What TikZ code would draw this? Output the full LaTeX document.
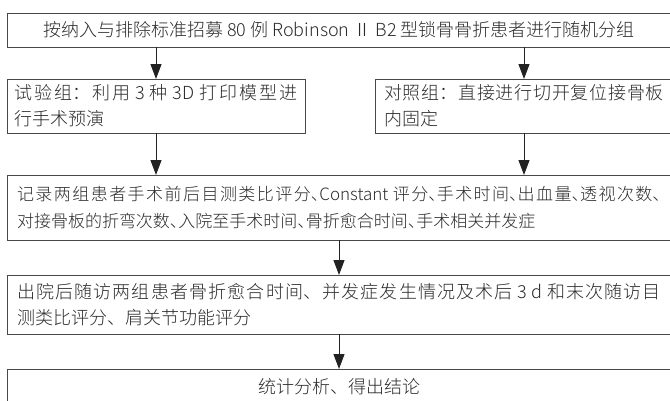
\documentclass[tikz,border=0pt]{standalone}
\usepackage{fontspec}
\newfontfamily\cjk{Noto Sans CJK SC Light}
\usetikzlibrary{arrows.meta}
\XeTeXlinebreaklocale "zh"
\XeTeXlinebreakskip=0pt plus 4pt
\tolerance=9999
\definecolor{boxc}{HTML}{484848}
\definecolor{txtc}{HTML}{2A2A2A}
\definecolor{arrc}{HTML}{222222}
\newcommand\hdun{\makebox[0.5em][l]{、}}
\begin{document}
\begin{tikzpicture}[x=1pt,y=-1pt,
  box/.style={draw=boxc, line width=1pt, inner ysep=0pt, outer sep=0pt, text=txtc, anchor=north west},
  big/.style={font=\cjk\fontsize{18}{26}\selectfont},
  mid/.style={font=\cjk\fontsize{17}{27}\selectfont},
  arr/.style={draw=arrc, line width=1pt, -{Triangle[width=11pt,length=15pt]}}]
\useasboundingbox (0,0) rectangle (670,400);
\clip (0,0) rectangle (670,400);
\node[box,big,minimum width=664pt,minimum height=34pt,inner xsep=0pt] (t) at (7,13)
  {按纳入与排除标准招募 80 例 Robinson Ⅱ B2 型锁骨骨折患者进行随机分组};
\node[box,big,text width=284pt,inner xsep=7pt,minimum height=54pt,align=justify] (l) at (7,79)
  {试验组：利用 3 种 3D 打印模型进\linebreak 行手术预演};
\node[box,big,text width=280pt,inner xsep=9pt,minimum height=54pt,align=justify] (r) at (375,79)
  {对照组：直接进行切开复位接骨板\linebreak 内固定};
\node[box,mid,text width=644pt,inner xsep=10pt,minimum height=65pt,align=justify] (m) at (7,175)
  {记录两组患者手术前后目测类比评分\hdun Constant 评分\hdun 手术时间\hdun 出血量\hdun 透视次数\hdun\linebreak 对接骨板的折弯次数\hdun 入院至手术时间\hdun 骨折愈合时间\hdun 手术相关并发症};
\node[box,big,text width=644pt,inner xsep=10pt,minimum height=59pt,align=justify] (f) at (7,275)
  {出院后随访两组患者骨折愈合时间、并发症发生情况及术后 3 d 和末次随访目\linebreak 测类比评分、肩关节功能评分};
\node[box,big,minimum width=664pt,minimum height=35pt,inner xsep=0pt] (s) at (7,369)
  {统计分析、得出结论};
\draw[arr] (l.north |- t.south) -- (l.north);
\draw[arr] (r.north |- t.south) -- (r.north);
\draw[arr] (l.south) -- (l.south |- m.north);
\draw[arr] (r.south) -- (r.south |- m.north);
\draw[arr] (m.south) -- (f.north);
\draw[arr] (f.south) -- (s.north);
\end{tikzpicture}
\end{document}
